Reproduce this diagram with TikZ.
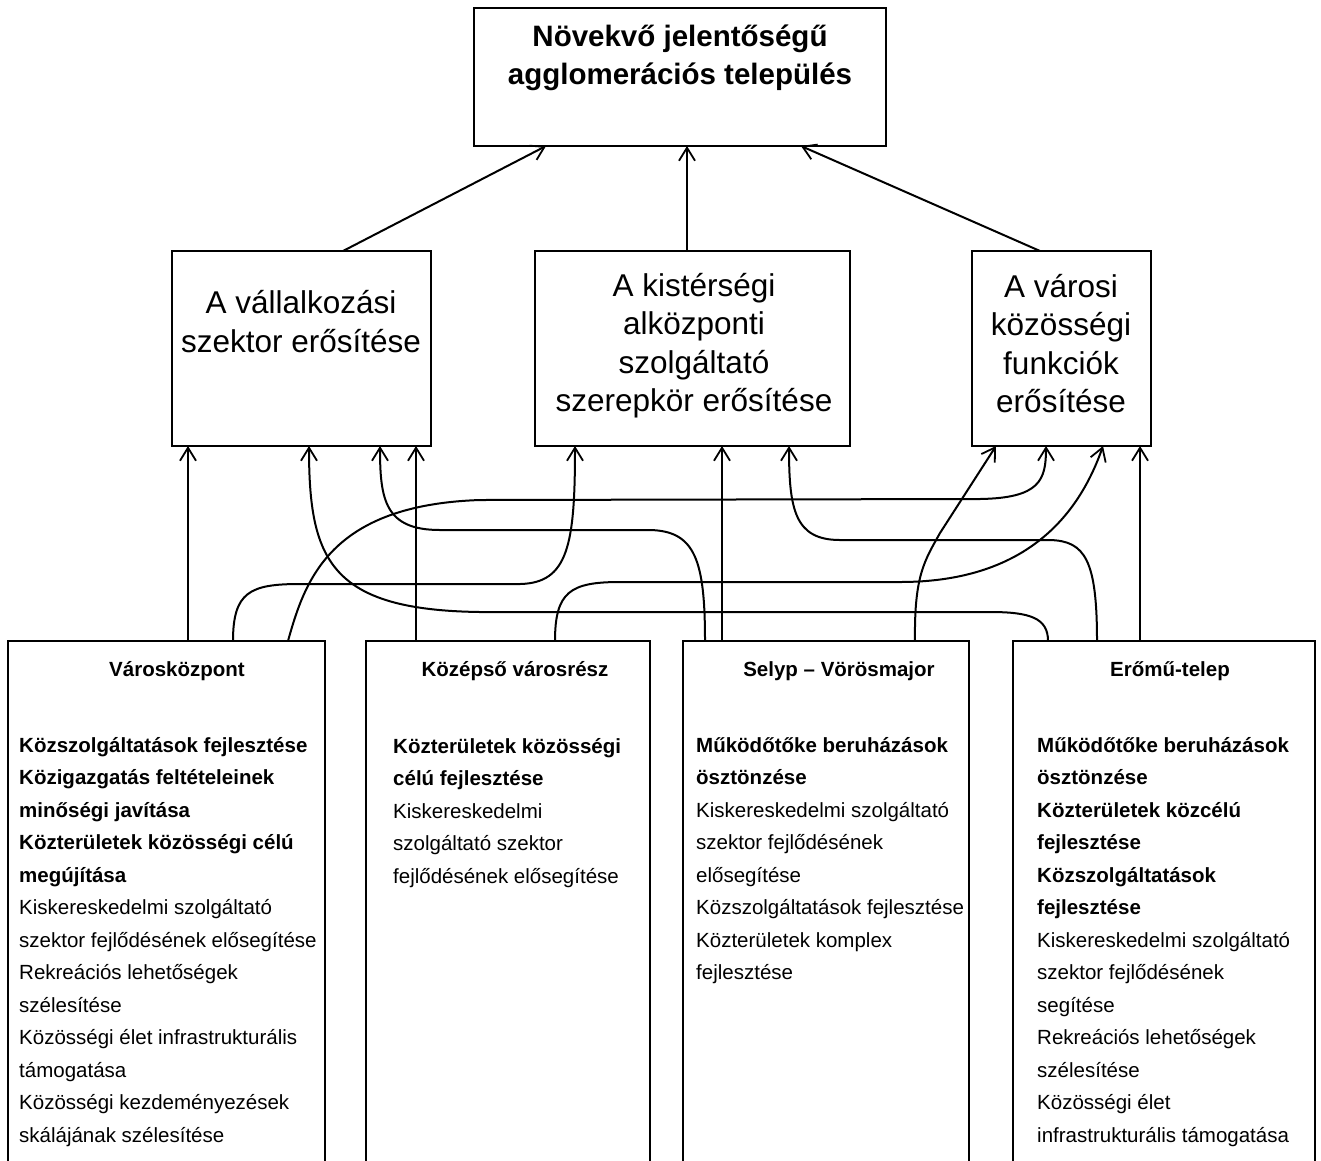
\documentclass[tikz,border=0pt]{standalone}
\usepackage{fontspec}
\setmainfont{Liberation Sans}
\usetikzlibrary{arrows.meta}
\begin{document}
\begin{tikzpicture}[x=1pt,y=-1pt,
  box/.style={draw,line width=1.5pt,inner sep=0pt,outer sep=0pt,fill=none},
  link/.style={line width=2pt,-{Straight Barb[length=13pt,width=16pt,line width=1.8pt]}},
  toptxt/.style={font=\fontsize{29.5}{38}\selectfont\bfseries,align=center,inner sep=0pt},
  midtxt/.style={font=\fontsize{31.5}{38.5}\selectfont,align=center,inner sep=0pt},
  ttl/.style={font=\fontsize{20.5}{24}\selectfont\bfseries,inner sep=0pt,anchor=base},
  body/.style={font=\fontsize{20.5}{32.5}\selectfont,align=left,inner sep=0pt,anchor=base west}]
\useasboundingbox (0,0) rectangle (1321,1160);
\fill[white] (0,0) rectangle (1321,1160);
\clip (0,0) rectangle (1321,1160);

% top box
\node[box,minimum width=412pt,minimum height=138pt] (top) at (680,77) {};
\node[toptxt,anchor=base] (toptext) at (680,84) {Növekvő jelentőségű\\agglomerációs település};

% middle boxes
\node[box,minimum width=259pt,minimum height=195pt] (L) at (301.5,348.5) {};
\node[box,minimum width=315pt,minimum height=195pt] (C) at (692.5,348.5) {};
\node[box,minimum width=179pt,minimum height=195pt] (R) at (1061.5,348.5) {};
\node[midtxt,anchor=base] (Ltext) at (301,352) {A vállalkozási\\szektor erősítése};
\node[midtxt,anchor=base] (Ctext) at (694,411.5) {A kistérségi\\alközponti\\szolgáltató\\szerepkör erősítése};
\node[midtxt,anchor=base] (Rtext) at (1061,412.5) {A városi\\közösségi\\funkciók\\erősítése};

% bottom boxes
\node[box,minimum width=317pt,minimum height=529pt] (vk) at (166.5,905.5) {};
\node[box,minimum width=284pt,minimum height=529pt] (ko) at (508,905.5) {};
\node[box,minimum width=286pt,minimum height=529pt] (se) at (826,905.5) {};
\node[box,minimum width=302pt,minimum height=529pt] (er) at (1164,905.5) {};

\node[ttl] (vkt) at (177,676) {Városközpont};
\node[ttl] (kot) at (515,676) {Középső városrész};
\node[ttl] (set) at (839,676) {Selyp – Vörösmajor};
\node[ttl] (ert) at (1170,676) {Erőmű-telep};

\node[body] (vkb) at (19,1142) {\textbf{Közszolgáltatások fejlesztése}\\
\textbf{Közigazgatás feltételeinek}\\
\textbf{minőségi javítása}\\
\textbf{Közterületek közösségi célú}\\
\textbf{megújítása}\\
Kiskereskedelmi szolgáltató\\
szektor fejlődésének elősegítése\\
Rekreációs lehetőségek\\
szélesítése\\
Közösségi élet infrastrukturális\\
támogatása\\
Közösségi kezdeményezések\\
skálájának szélesítése};

\node[body] (kob) at (393,883) {\textbf{Közterületek közösségi}\\
\textbf{célú fejlesztése}\\
Kiskereskedelmi\\
szolgáltató szektor\\
fejlődésének elősegítése};

\node[body] (seb) at (696,979.5) {\textbf{Működőtőke beruházások}\\
\textbf{ösztönzése}\\
Kiskereskedelmi szolgáltató\\
szektor fejlődésének\\
elősegítése\\
Közszolgáltatások fejlesztése\\
Közterületek komplex\\
fejlesztése};

\node[body] (erb) at (1037,1142) {\textbf{Működőtőke beruházások}\\
\textbf{ösztönzése}\\
\textbf{Közterületek közcélú}\\
\textbf{fejlesztése}\\
\textbf{Közszolgáltatások}\\
\textbf{fejlesztése}\\
Kiskereskedelmi szolgáltató\\
szektor fejlődésének\\
segítése\\
Rekreációs lehetőségek\\
szélesítése\\
Közösségi élet\\
infrastrukturális támogatása};

% middle -> top
\draw[link] (343,0 |- L.north) -- (546,0 |- top.south);
\draw[link] (687,0 |- C.north) -- (687,0 |- top.south);
\draw[link] (1040,0 |- R.north) -- (801,0 |- top.south);

% straight links
\draw[link] (188,0 |- vk.north) -- (188,0 |- L.south);
\draw[link] (416,0 |- ko.north) -- (416,0 |- L.south);
\draw[link] (722,0 |- se.north) -- (722,0 |- C.south);
\draw[link] (1140,0 |- er.north) -- (1140,0 |- R.south);

% curved links
\draw[link] (233,0 |- vk.north) .. controls (233,592) and (250,584) .. (300,584)
  -- (520,584) .. controls (568,583) and (575,545) .. (575,0 |- C.south);
\draw[link] (288,0 |- vk.north) .. controls (305,580) and (330,505) .. (480,500)
  -- (980,499) .. controls (1040,498) and (1046,480) .. (1046,0 |- R.south);
\draw[link] (555,0 |- ko.north) .. controls (555,592) and (570,582) .. (620,582)
  -- (900,582) .. controls (1000,582) and (1070,540) .. (1103,0 |- R.south);
\draw[link] (705,0 |- se.north) .. controls (705,560) and (695,531) .. (650,530)
  -- (440,530) .. controls (385,530) and (380,500) .. (380,0 |- L.south);
\draw[link] (915,0 |- se.north) .. controls (914,575) and (925,560) .. (940,533)
  -- (996,0 |- R.south);
\draw[link] (1048,0 |- er.north) .. controls (1048,618) and (1030,612) .. (990,612)
  -- (480,612) .. controls (330,610) and (309,560) .. (309,0 |- L.south);
\draw[link] (1097,0 |- er.north) .. controls (1097,560) and (1085,541) .. (1050,540)
  -- (840,540) .. controls (795,540) and (789,510) .. (789,0 |- C.south);
\end{tikzpicture}
\end{document}
